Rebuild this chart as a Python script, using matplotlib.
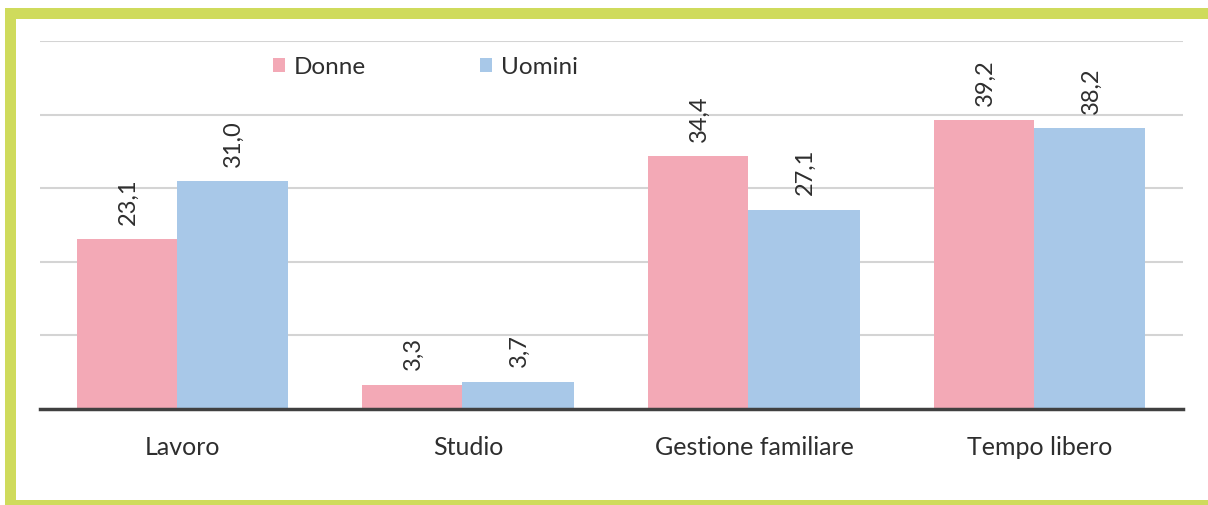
import numpy as np
import matplotlib
matplotlib.use('Agg')
import matplotlib.pyplot as plt
from matplotlib.patches import Rectangle

categories = ['Lavoro', 'Studio', 'Gestione familiare', 'Tempo libero']
donne = [23.1, 3.3, 34.4, 39.2]
uomini = [31.0, 3.7, 27.1, 38.2]
series_names = ['Donne', 'Uomini']

PINK = '#f3a9b6'
BLUE = '#a8c8e8'
FRAME = '#cfdb5c'
TEXT = '#2e2e2e'

plt.rcParams['font.family'] = ['Lato', 'DejaVu Sans']

W, H = 1208, 506
fig = plt.figure(figsize=(W / 100, H / 100), dpi=100)
fig.patch.set_facecolor('white')

# green frame on the left, top and bottom edges (pixel boxes -> figure fractions)
for x0, y0, x1, y1 in [(5, 9, 16, 506), (5, 9, W, 20), (5, 501, W, 506)]:
    fig.patches.append(Rectangle((x0 / W, 1 - y1 / H), (x1 - x0) / W, (y1 - y0) / H,
                                 transform=fig.transFigure, facecolor=FRAME,
                                 edgecolor='none', zorder=0))

ax = fig.add_axes([40 / W, (H - 410) / H, (1183 - 40) / W, (410 - 42) / H])

x = np.arange(len(categories))
split = -0.022  # the two bars of a group meet slightly left of the tick
w_d, w_u = 0.35, 0.39
bars_d = ax.bar(x + split - w_d / 2, donne, w_d, color=PINK, label=series_names[0], zorder=2)
bars_u = ax.bar(x + split + w_u / 2, uomini, w_u, color=BLUE, label=series_names[1], zorder=3)

for bars, values in [(bars_d, donne), (bars_u, uomini)]:
    for bar, v in zip(bars, values):
        ax.annotate(f'{v:.1f}'.replace('.', ','),
                    (bar.get_x() + bar.get_width() / 2, v),
                    xytext=(1, 11), textcoords='offset points',
                    rotation=90, ha='center', va='bottom',
                    fontsize=17, color=TEXT)

ax.set_xlim(-0.5, len(categories) - 0.5)
ax.set_ylim(0, 50)
ax.set_yticks([10, 20, 30, 40, 50])
ax.yaxis.grid(True, color='#d4d4d4', linewidth=1.5, zorder=0)
ax.set_axisbelow(True)
ax.tick_params(axis='y', left=False, labelleft=False)
ax.set_xticks(x)
ax.set_xticklabels(categories, fontsize=18, color=TEXT)
ax.tick_params(axis='x', length=0, pad=19)
for side in ['top', 'right', 'left']:
    ax.spines[side].set_visible(False)
ax.spines['bottom'].set_color('#404040')
ax.spines['bottom'].set_linewidth(2.5)
ax.spines['bottom'].set_zorder(4)

leg = ax.legend(loc='center', bbox_to_anchor=(0.337, 0.93), ncol=2, frameon=False,
                fontsize=17.5, handlelength=0.5, handleheight=0.5,
                handletextpad=0.35, columnspacing=4.7)
for t in leg.get_texts():
    t.set_color(TEXT)

fig.savefig('out.png', dpi=100, facecolor='white')
